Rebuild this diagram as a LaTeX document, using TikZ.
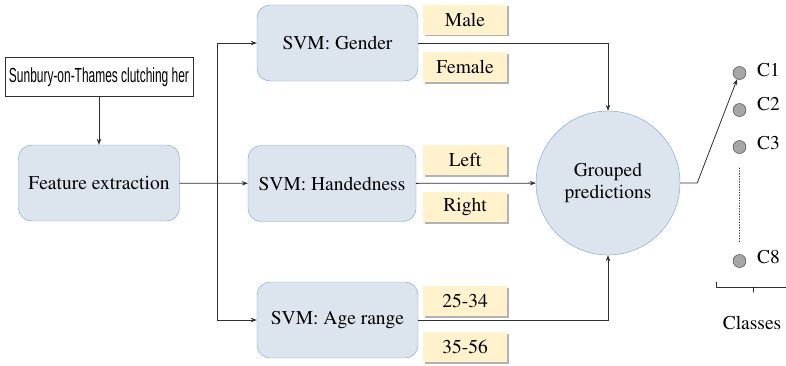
\documentclass[tikz,border=0pt]{standalone}
\usepackage[T1]{fontenc}
\usepackage{fontspec}
\newfontfamily\handfont{Liberation Sans}
\newcommand\timesbody{\fontencoding{T1}\fontfamily{ptm}\selectfont}
\usepackage{graphicx}
\usetikzlibrary{arrows.meta, shadows}
\definecolor{svmBlue}{HTML}{DCE4EE}
\definecolor{svmEdge}{HTML}{739ECF}
\definecolor{tagYellow}{HTML}{FFF2CC}
\definecolor{lineGray}{HTML}{303030}
\definecolor{dotGray}{HTML}{A6A6A6}

\begin{document}
\begin{tikzpicture}[x=1pt, y=-1pt, font=\timesbody\fontsize{19.5}{22}\selectfont,
  style={line cap = round},
  svm/.style={draw=svmEdge, fill=svmBlue, rounded corners=13pt, minimum width=161pt, minimum height=76pt},
  tag/.style={fill=tagYellow, minimum width=84pt, minimum height=30pt, inner sep=0pt,
    drop shadow={opacity=0.3, shadow xshift=1.5pt, shadow yshift=-1.5pt, fill=black}},
  cls/.style={circle, draw=lineGray, fill=dotGray, minimum size=13pt, inner sep=0pt},
  link/.style={draw=lineGray, line width=0.8pt, -{Stealth[length=6pt, width=4.5pt]}}]

  \useasboundingbox (0,0) rectangle (786,365);

  % input sample
  \node[draw=lineGray, line width=1pt, minimum width=188pt, minimum height=39pt, inner sep=0pt] (sample) at (99,77)
    {\resizebox*{180pt}{19pt}{\handfont Sunbury-on-Thames clutching her}};
  \node[svm] (feat) at (99,183) {Feature extraction};

  % classifiers
  \node[svm] (gender) at (337.5,43) {SVM: Gender};
  \node[svm, minimum width=168pt] (hand) at (332,183.5) {SVM: Handedness};
  \node[svm] (age) at (337.5,320) {SVM: Age range};

  \node[tag] (male) at (465,19.5) {Male};
  \node[tag] (female) at (465,67) {Female};
  \node[tag] (left) at (465,160) {Left};
  \node[tag] (right) at (465,207) {Right};
  \node[tag] (young) at (465,301) {25-34};
  \node[tag] (old) at (465,347) {35-56};

  \node[circle, draw=svmEdge, fill=svmBlue, minimum size=144pt, align=center] (group) at (608,183) {Grouped\\predictions};

  % classes
  \node[cls] (c1) at (739.5,73) {};
  \node[cls] (c2) at (739.5,110) {};
  \node[cls] (c3) at (739.5,147) {};
  \node[cls] (c8) at (739.5,261) {};
  \node[anchor=west, inner sep=0pt] (c1t) at (757,70) {C1};
  \node[anchor=west, inner sep=0pt] (c2t) at (757,104) {C2};
  \node[anchor=west, inner sep=0pt] (c3t) at (757,143) {C3};
  \node[anchor=west, inner sep=0pt] (c8t) at (757,257) {C8};
  \draw[lineGray, dotted, line width=0.7pt] (739,168) -- (739,242);
  \draw[lineGray, line width=1pt] (716,282) -- (716,287) -- (786,287);
  \draw[lineGray, line width=1pt] (753,287) -- (753,292);
  \node (classes) at (752,323) {Classes};

  % connectors
  \coordinate (split) at (217,183);
  \draw[link] (sample) -- (feat);
  \draw[link] (feat) -- (hand);
  \draw[link] (split) |- (gender);
  \draw[link] (split) |- (age);
  \draw[link] (gender) -| (group);
  \draw[link] (age) -| (group);
  \draw[link] (hand) -- (group);
  \draw[link] (group.east) -- ++(17,0) -- (c1);

\end{tikzpicture}
\end{document}
